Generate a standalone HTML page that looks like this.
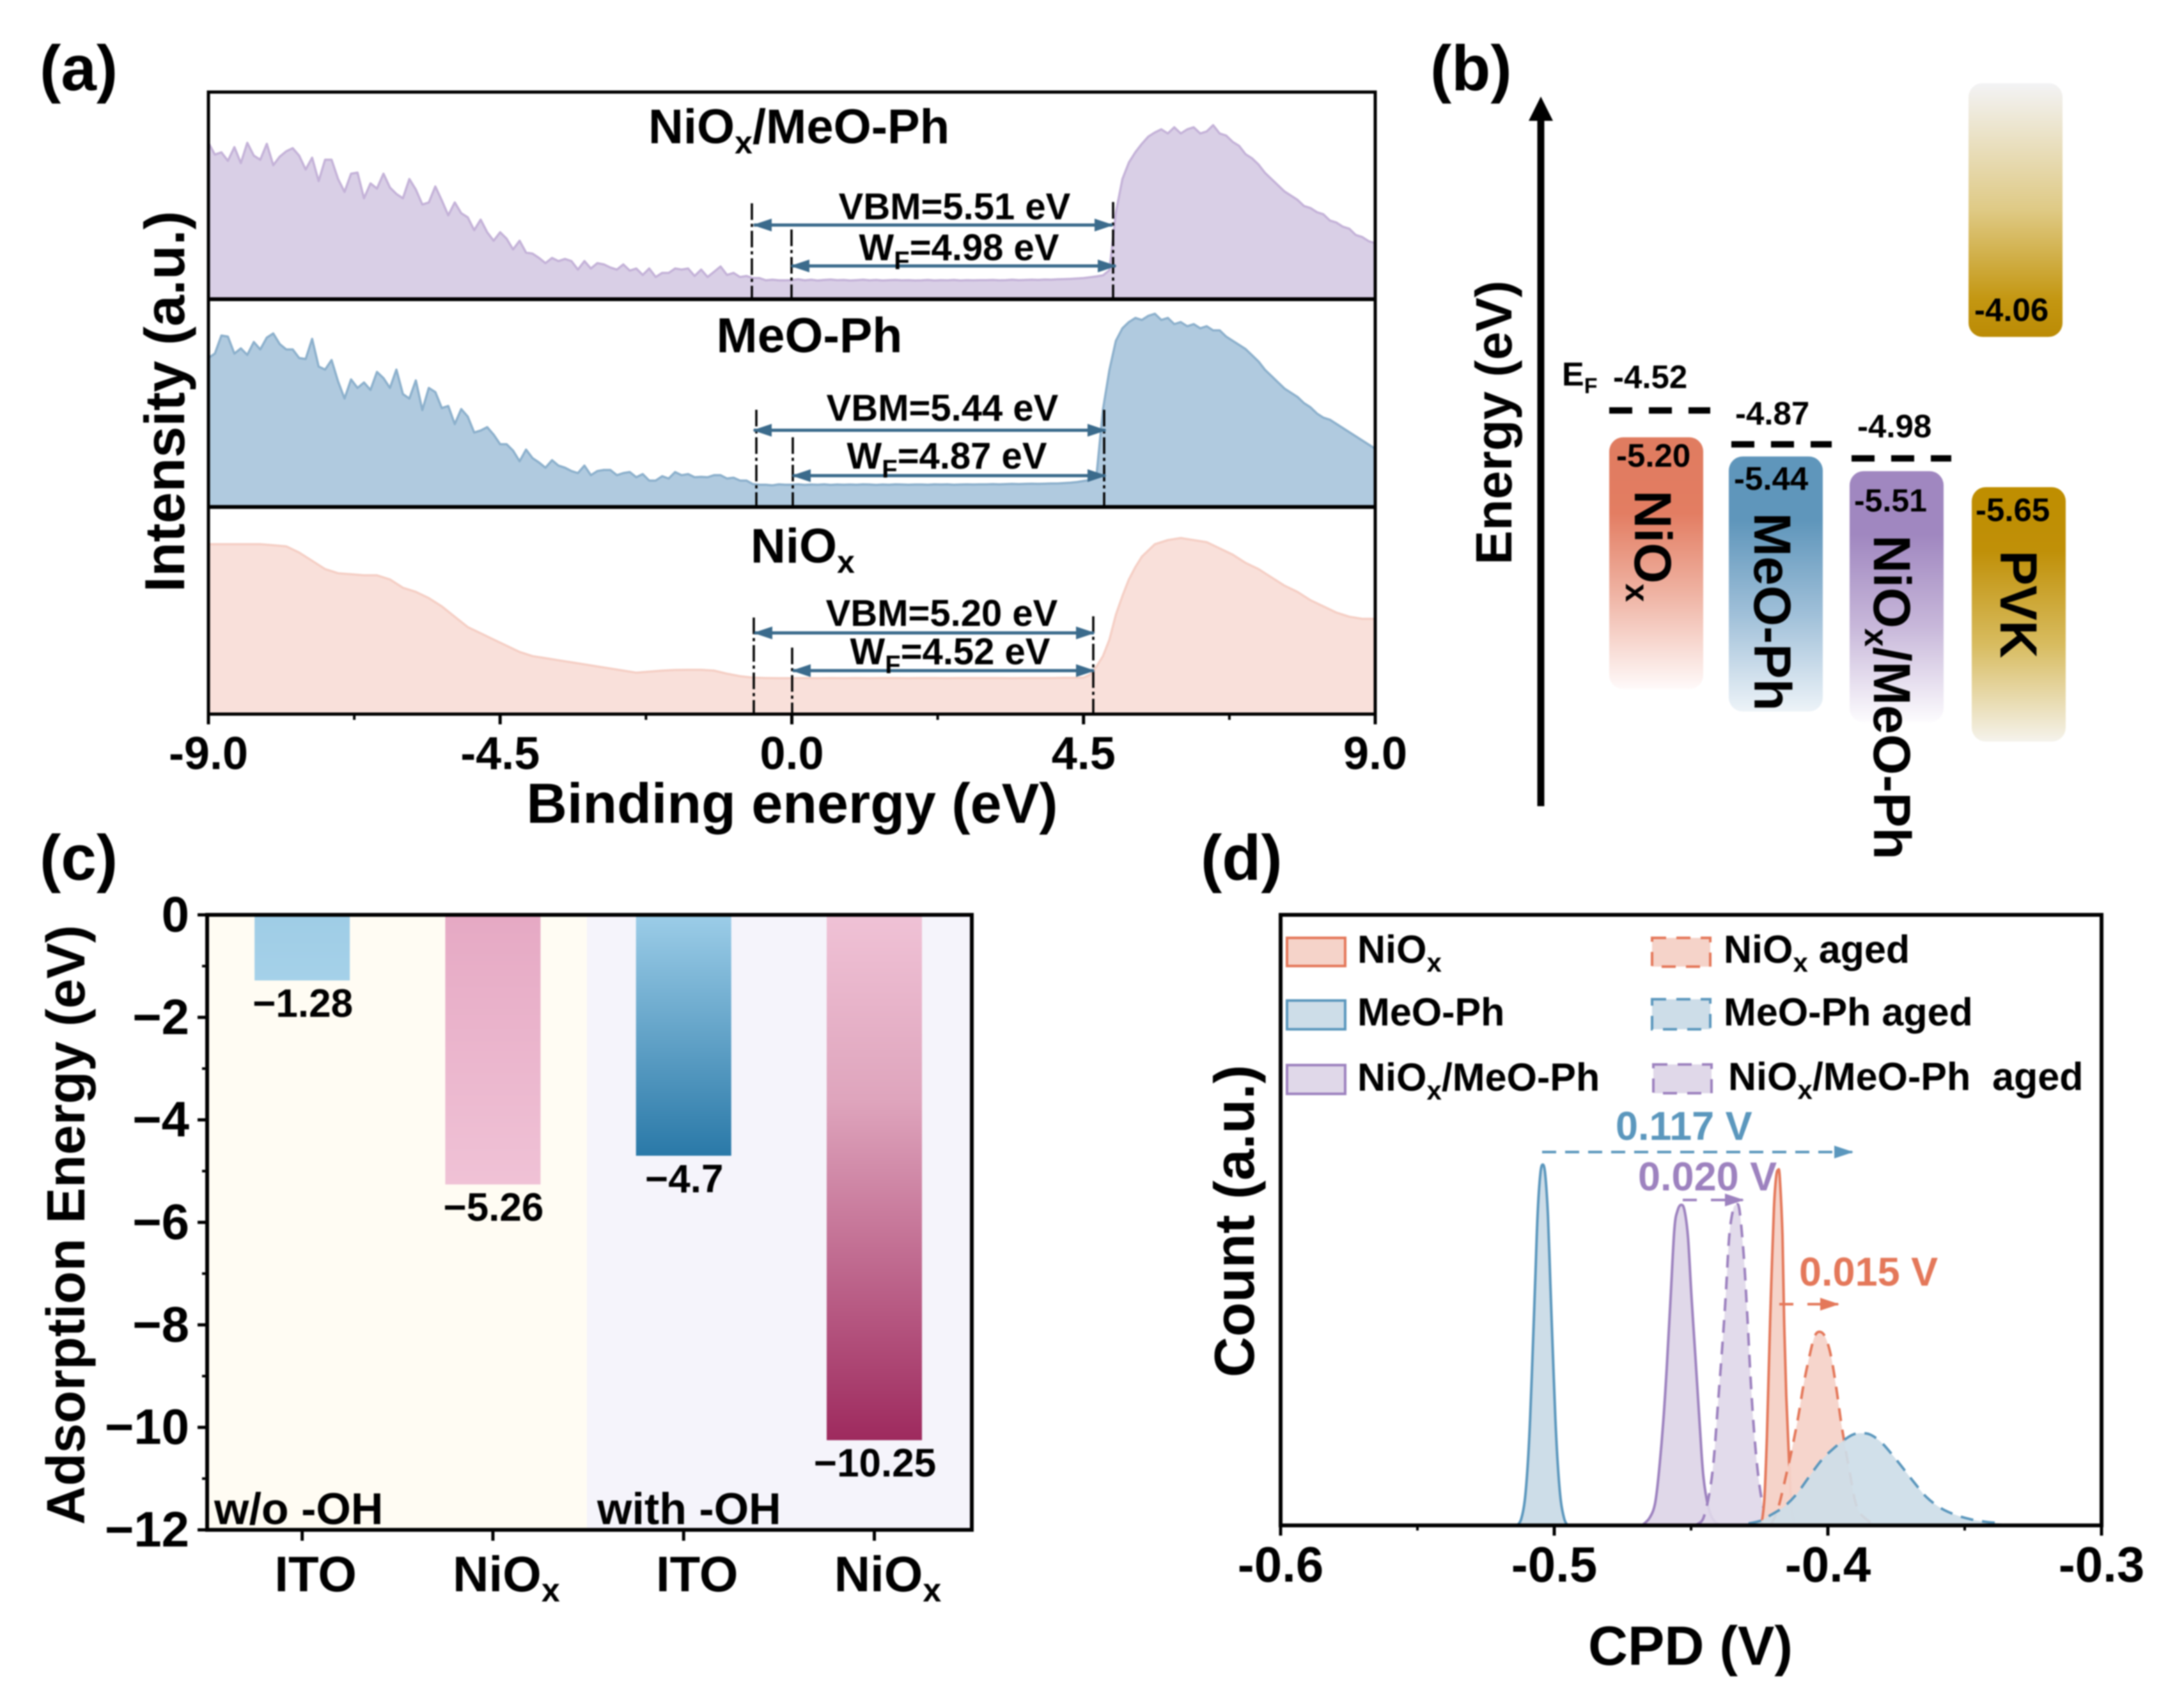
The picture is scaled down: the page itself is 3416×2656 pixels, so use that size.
<!DOCTYPE html>
<html lang="en">
<head>
<meta charset="utf-8">
<title>NiOx / MeO-Ph characterization figure</title>
<style>
html,body{margin:0;padding:0;background:#fff;width:3416px;height:2656px;overflow:hidden}
svg{display:block;filter:blur(1px)}
text{font-family:"Liberation Sans",sans-serif;font-weight:bold;fill:#000}
</style>
</head>
<body>
<svg id="fig" xmlns="http://www.w3.org/2000/svg" width="3416" height="2656" viewBox="0 0 3416 2656">
<defs>
<marker id="headBlue" viewBox="0 0 30 20" refX="28" refY="10" markerWidth="30" markerHeight="20" markerUnits="userSpaceOnUse" orient="auto-start-reverse"><path d="M0 0L30 10L0 20Z" fill="#3b6b8c"/></marker>
<marker id="headA" viewBox="0 0 30 20" refX="28" refY="10" markerWidth="30" markerHeight="20" markerUnits="userSpaceOnUse" orient="auto"><path d="M0 0L30 10L0 20Z" fill="#5b97bd"/></marker>
<marker id="headB" viewBox="0 0 30 20" refX="28" refY="10" markerWidth="30" markerHeight="20" markerUnits="userSpaceOnUse" orient="auto"><path d="M0 0L30 10L0 20Z" fill="#9d82bf"/></marker>
<marker id="headC" viewBox="0 0 30 20" refX="28" refY="10" markerWidth="30" markerHeight="20" markerUnits="userSpaceOnUse" orient="auto"><path d="M0 0L30 10L0 20Z" fill="#e4785a"/></marker>
<linearGradient id="gNi" x1="0" y1="0" x2="0" y2="1"><stop offset="0" stop-color="#e07c60"/><stop offset=".3" stop-color="#e37d62"/><stop offset=".62" stop-color="#efb3a3"/><stop offset="1" stop-color="#fffafa"/></linearGradient>
<linearGradient id="gMe" x1="0" y1="0" x2="0" y2="1"><stop offset="0" stop-color="#5f96bb"/><stop offset=".25" stop-color="#5f96bb"/><stop offset=".62" stop-color="#a0c0d9"/><stop offset="1" stop-color="#edf3f8"/></linearGradient>
<linearGradient id="gPu" x1="0" y1="0" x2="0" y2="1"><stop offset="0" stop-color="#a087c0"/><stop offset=".25" stop-color="#a087c0"/><stop offset=".62" stop-color="#c8b8da"/><stop offset="1" stop-color="#fdfcfe"/></linearGradient>
<linearGradient id="gPv" x1="0" y1="0" x2="0" y2="1"><stop offset="0" stop-color="#bf8e00"/><stop offset=".25" stop-color="#c09008"/><stop offset=".62" stop-color="#d8bc60"/><stop offset="1" stop-color="#f5f3ec"/></linearGradient>
<linearGradient id="gPvUp" x1="0" y1="0" x2="0" y2="1"><stop offset="0" stop-color="#f3f3f5"/><stop offset=".5" stop-color="#dfca85"/><stop offset=".85" stop-color="#c49712"/><stop offset="1" stop-color="#bb8b05"/></linearGradient>
<linearGradient id="gBar0" x1="0" y1="0" x2="0" y2="1"><stop offset="0" stop-color="#9fcde6"/><stop offset="1" stop-color="#a5d1e9"/></linearGradient>
<linearGradient id="gBar1" x1="0" y1="0" x2="0" y2="1"><stop offset="0" stop-color="#e6a9c4"/><stop offset="1" stop-color="#f0c2d6"/></linearGradient>
<linearGradient id="gBar2" x1="0" y1="0" x2="0" y2="1"><stop offset="0" stop-color="#9ccde8"/><stop offset="1" stop-color="#2a79a8"/></linearGradient>
<linearGradient id="gBar3" x1="0" y1="0" x2="0" y2="1"><stop offset="0" stop-color="#f0c2d6"/><stop offset=".35" stop-color="#dfa5bd"/><stop offset="1" stop-color="#9e2a5e"/></linearGradient>
</defs>

<g id="panelA">
  <text x="62" y="141" font-size="100">(a)</text>
  <g id="spectra"></g>
  <rect x="326" y="144" width="1825" height="973" fill="none" stroke="#000" stroke-width="5"/>
  <line x1="326" y1="468" x2="2151" y2="468" stroke="#000" stroke-width="6"/>
  <line x1="326" y1="793" x2="2151" y2="793" stroke="#000" stroke-width="6"/>
  <g id="ticksA"></g>

  <text x="1014" y="224" font-size="76">NiO<tspan dy="16" font-size="50">x</tspan><tspan dy="-16">/MeO-Ph</tspan></text>
  <text x="1266" y="551" font-size="77" text-anchor="middle">MeO-Ph</text>
  <text x="1174" y="880" font-size="76">NiO<tspan dy="16" font-size="50">x</tspan></text>

  <g fill="none" stroke="#000" stroke-width="3.5" stroke-dasharray="26 6 5 6">
    <line x1="1176" y1="318" x2="1176" y2="468"/>
    <line x1="1238" y1="359" x2="1238" y2="468"/>
    <line x1="1741" y1="316" x2="1741" y2="468"/>
    <line x1="1183" y1="641" x2="1183" y2="793"/>
    <line x1="1240" y1="684" x2="1240" y2="793"/>
    <line x1="1727" y1="641" x2="1727" y2="793"/>
    <line x1="1179" y1="966" x2="1179" y2="1117"/>
    <line x1="1239" y1="1013" x2="1239" y2="1117"/>
    <line x1="1710" y1="964" x2="1710" y2="1117"/>
  </g>
  <g stroke="#3b6b8c" stroke-width="5">
    <line x1="1179" y1="352" x2="1740" y2="352" marker-start="url(#headBlue)" marker-end="url(#headBlue)"/>
    <line x1="1238" y1="416" x2="1745" y2="416" marker-start="url(#headBlue)" marker-end="url(#headBlue)"/>
    <line x1="1179" y1="673" x2="1729" y2="673" marker-start="url(#headBlue)" marker-end="url(#headBlue)"/>
    <line x1="1240" y1="744" x2="1729" y2="744" marker-start="url(#headBlue)" marker-end="url(#headBlue)"/>
    <line x1="1180" y1="990" x2="1711" y2="990" marker-start="url(#headBlue)" marker-end="url(#headBlue)"/>
    <line x1="1240" y1="1049" x2="1711" y2="1049" marker-start="url(#headBlue)" marker-end="url(#headBlue)"/>
  </g>
  <text x="1493" y="343" font-size="58" text-anchor="middle">VBM=5.51 eV</text>
  <text x="1500" y="407" font-size="58" text-anchor="middle">W<tspan dy="14" font-size="40">F</tspan><tspan dy="-14">=4.98 eV</tspan></text>
  <text x="1474" y="658" font-size="58" text-anchor="middle">VBM=5.44 eV</text>
  <text x="1481" y="733" font-size="58" text-anchor="middle">W<tspan dy="14" font-size="40">F</tspan><tspan dy="-14">=4.87 eV</tspan></text>
  <text x="1473" y="979" font-size="58" text-anchor="middle">VBM=5.20 eV</text>
  <text x="1486" y="1039" font-size="58" text-anchor="middle">W<tspan dy="14" font-size="40">F</tspan><tspan dy="-14">=4.52 eV</tspan></text>
  <text x="1239" y="1287" font-size="88" text-anchor="middle">Binding energy (eV)</text>
  <text transform="translate(288 628) rotate(-90)" font-size="88" text-anchor="middle">Intensity (a.u.)</text>
</g>

<g id="panelB">
  <text x="2237" y="141" font-size="100">(b)</text>
  <rect x="2404.5" y="185" width="11" height="1076" fill="#000"/>
  <polygon points="2410,151 2429,189 2391,189" fill="#000"/>
  <text transform="translate(2364 661) rotate(-90)" font-size="80" text-anchor="middle">Energy (eV)</text>

  <rect x="2517" y="684" width="147" height="394" rx="22" fill="url(#gNi)"/>
  <rect x="2704" y="714" width="147" height="399" rx="22" fill="url(#gMe)"/>
  <rect x="2893" y="737" width="147" height="393" rx="22" fill="url(#gPu)"/>
  <rect x="3084" y="762" width="147" height="398" rx="22" fill="url(#gPv)"/>
  <rect x="3079" y="130" width="147" height="397" rx="22" fill="url(#gPvUp)"/>

  <g stroke="#000" stroke-width="10" stroke-dasharray="36 26">
    <line x1="2517" y1="642" x2="2675" y2="642"/>
    <line x1="2708" y1="695" x2="2865" y2="695"/>
    <line x1="2896" y1="717" x2="3052" y2="717"/>
  </g>
  <text x="2443" y="603" font-size="52">E<tspan dy="12" font-size="34">F</tspan></text>
  <text x="2523" y="607" font-size="51">-4.52</text>
  <text x="2714" y="664" font-size="51">-4.87</text>
  <text x="2905" y="684" font-size="51">-4.98</text>
  <text x="2528" y="730" font-size="51">-5.20</text>
  <text x="2712" y="766" font-size="51">-5.44</text>
  <text x="2900" y="800" font-size="50">-5.51</text>
  <text x="3090" y="815" font-size="51">-5.65</text>
  <text x="3088" y="502" font-size="51">-4.06</text>

  <text transform="translate(2557 767) rotate(90)" font-size="82">NiO<tspan dy="14" font-size="52">x</tspan></text>
  <text transform="translate(2744 802) rotate(90)" font-size="82">MeO-Ph</text>
  <text transform="translate(2931 837) rotate(90)" font-size="82">NiO<tspan dy="14" font-size="52">x</tspan><tspan dy="-14">/MeO-Ph</tspan></text>
  <text transform="translate(3129 861) rotate(90)" font-size="82">PVK</text>
</g>

<g id="panelC">
  <text x="62" y="1376" font-size="100">(c)</text>
  <rect x="324" y="1431" width="594" height="962" fill="#fffcf3"/>
  <rect x="918" y="1431" width="602" height="962" fill="#f5f4fb"/>
  <g id="barsC"></g>
  <rect x="324" y="1431" width="1196" height="962" fill="none" stroke="#000" stroke-width="6"/>
  <g id="ticksC"></g>
  <text x="335" y="2384" font-size="70">w/o -OH</text>
  <text x="934" y="2384" font-size="70">with -OH</text>
  <text transform="translate(132 1916) rotate(-90)" font-size="84" text-anchor="middle">Adsorption Energy (eV)</text>
</g>

<g id="panelD">
  <text x="1878" y="1376" font-size="100">(d)</text>
  <g id="curvesD"></g>
  <rect x="2003" y="1431" width="1284" height="955" fill="none" stroke="#000" stroke-width="6"/>
  <g id="ticksD"></g>

  <rect x="2013" y="1467" width="91" height="44" fill="#f5d3c9" stroke="#e4785a" stroke-width="4"/>
  <rect x="2013" y="1565" width="91" height="45" fill="#cddde8" stroke="#5b97bd" stroke-width="4"/>
  <rect x="2013" y="1666" width="91" height="45" fill="#e0d8e9" stroke="#9d82bf" stroke-width="4"/>
  <rect x="2584" y="1467" width="91" height="45" fill="#f5d3c9" stroke="#e4785a" stroke-width="4" stroke-dasharray="22 16"/>
  <rect x="2584" y="1563" width="91" height="47" fill="#cddde8" stroke="#5b97bd" stroke-width="4" stroke-dasharray="22 16"/>
  <rect x="2586" y="1665" width="91" height="45" fill="#e0d8e9" stroke="#9d82bf" stroke-width="4" stroke-dasharray="22 16"/>
  <text x="2123" y="1506" font-size="61">NiO<tspan dy="14" font-size="42">x</tspan></text>
  <text x="2123" y="1604" font-size="61">MeO-Ph</text>
  <text x="2123" y="1706" font-size="61">NiO<tspan dy="14" font-size="42">x</tspan><tspan dy="-14">/MeO-Ph</tspan></text>
  <text x="2696" y="1506" font-size="61">NiO<tspan dy="14" font-size="42">x</tspan><tspan dy="-14"> aged</tspan></text>
  <text x="2696" y="1604" font-size="61">MeO-Ph aged</text>
  <text x="2703" y="1705" font-size="61">NiO<tspan dy="14" font-size="42">x</tspan><tspan dy="-14">/MeO-Ph&#160;&#160;aged</tspan></text>

  <text x="2527" y="1783" font-size="63" style="fill:#5b97bd">0.117 V</text>
  <line x1="2412" y1="1802" x2="2897" y2="1802" stroke="#5b97bd" stroke-width="4" stroke-dasharray="22 14" marker-end="url(#headA)"/>
  <text x="2562" y="1862" font-size="63" style="fill:#9d82bf">0.020 V</text>
  <line x1="2632" y1="1877" x2="2726" y2="1877" stroke="#9d82bf" stroke-width="4" stroke-dasharray="22 22" marker-end="url(#headB)"/>
  <text x="2814" y="2011" font-size="63" style="fill:#e4785a">0.015 V</text>
  <line x1="2783" y1="2040" x2="2875" y2="2040" stroke="#e4785a" stroke-width="4" stroke-dasharray="22 22" marker-end="url(#headC)"/>

  <text x="2644" y="2604" font-size="86" text-anchor="middle">CPD (V)</text>
  <text transform="translate(1961 1910) rotate(-90)" font-size="88" text-anchor="middle">Count (a.u.)</text>
</g>
</svg>

<script>
/* ---------- panel (a) data: binding energy (eV) and intensity (% of panel height) ---------- */
const energyFine = [
-9.0,-8.9,-8.8,-8.7,-8.6,-8.5,-8.4,-8.3,-8.2,-8.1,
-8.0,-7.9,-7.8,-7.7,-7.6,-7.5,-7.4,-7.3,-7.2,-7.1,
-7.0,-6.9,-6.8,-6.7,-6.6,-6.5,-6.4,-6.3,-6.2,-6.1,
-6.0,-5.9,-5.8,-5.7,-5.6,-5.5,-5.4,-5.3,-5.2,-5.1,
-5.0,-4.9,-4.8,-4.7,-4.6,-4.5,-4.4,-4.3,-4.2,-4.1,
-4.0,-3.9,-3.8,-3.7,-3.6,-3.5,-3.4,-3.3,-3.2,-3.1,
-3.0,-2.9,-2.8,-2.7,-2.6,-2.5,-2.4,-2.3,-2.2,-2.1,
-2.0,-1.9,-1.8,-1.7,-1.6,-1.5,-1.4,-1.3,-1.2,-1.1,
-1.0,-0.9,-0.8,-0.7,-0.6,-0.5,-0.4,-0.3,-0.2,-0.1,
0.0,0.1,0.2,0.3,0.4,0.5,0.6,0.7,0.8,0.9,
1.0,1.1,1.2,1.3,1.4,1.5,1.6,1.7,1.8,1.9,
2.0,2.1,2.2,2.3,2.4,2.5,2.6,2.7,2.8,2.9,
3.0,3.1,3.2,3.3,3.4,3.5,3.6,3.7,3.8,3.9,
4.0,4.1,4.2,4.3,4.4,4.5,4.6,4.7,4.8,4.9,
5.0,5.1,5.2,5.3,5.4,5.5,5.6,5.7,5.8,5.9,
6.0,6.1,6.2,6.3,6.4,6.5,6.6,6.7,6.8,6.9,
7.0,7.1,7.2,7.3,7.4,7.5,7.6,7.7,7.8,7.9,
8.0,8.1,8.2,8.3,8.4,8.5,8.6,8.7,8.8,8.9,
9.0];
const intensityNioMeo = [
75.5,69.8,70.9,66.8,73.4,65.7,75.5,69.3,67.3,75,
64.7,68.8,71.4,72.9,69.3,62.6,68.3,57,67.3,67.3,
58,51.8,60.6,61.1,48.7,55.9,53.4,60.6,53.9,50.8,
48.7,58,52.9,45.7,46.7,54.4,47.7,40.5,46.7,41.5,
39.5,33.3,38.4,32.3,28.2,32.3,29.2,24,28.2,22.5,
22,19.9,17.4,19.9,18.4,19.4,18.4,14.3,18.4,14.8,
17.4,16.8,15.3,14.3,16.8,13.8,14.8,11.7,14.8,10.7,
12.7,12.7,14.8,14.3,14.8,11.2,14.3,10.7,13.2,15.8,
11.7,12.7,10.7,11.2,10.2,10.2,9.1,9.4,9.1,9.1,
9.2,9.6,9.1,9.4,9.0,9.3,9.5,9.2,9.3,9.0,
9.2,9.4,9.1,9.3,9.0,9.2,9.3,9.1,9.2,9.0,
9.1,9.3,9.0,9.2,9.1,9.3,9.0,9.2,9.1,9.2,
9.2,9.3,9.1,9.2,9.4,9.2,9.3,9.4,9.3,9.5,
9.4,9.6,9.7,9.8,10,10.2,10.6,11,11.5,14,
42,58,66,71,75,78.5,80.5,82,80,83,
80,82,83,80,81,84,80,79,76,74,
70,68,65,61,58,55,52,50,48,45,
44,42,41,38,37,35,34,31,30,28,
27];
const intensityMeo = [
71.7,73.8,82.5,82,73.8,76.3,73.2,79.4,75.8,81.5,
83.5,78.4,75.8,75.8,71.7,71.2,80.9,67.6,66.1,70.7,
60.4,52.2,61.4,57.3,59.9,56.3,65,62,57.3,66.1,
54.3,52.2,60.9,46.6,57.3,55.3,47.6,48.6,39.9,47.1,
43.5,35.8,36.8,38.4,34.8,30.2,30.2,27.1,22,27.6,
23.5,21.4,18.9,22.5,19.9,18.9,17.3,16.3,19.9,15.3,
17.3,17.8,17.8,15.3,16.3,16.8,14.3,15.8,12.7,12.7,
14.8,13.7,16.8,15.3,15.8,14.3,14.5,14.3,15.3,15.3,
13.7,14.1,12.7,12.7,11,10.7,10.7,10.4,10.9,10.7,
10.7,10.9,10.6,10.8,10.7,10.9,10.6,10.8,10.7,10.8,
10.7,10.9,10.8,10.6,10.8,10.7,10.9,10.8,10.7,10.8,
10.8,10.7,10.9,10.8,10.9,10.7,10.8,10.9,10.8,10.9,
10.9,11,10.9,11,11.1,11,11.1,11.2,11.1,11.2,
11.3,11.3,11.5,11.7,12,12.5,13,15,47,66,
80,86,89,91,90,92,93,90,91,88,
89,87,88,86,87,85,85,82,80,78,
76,73,70,66,63,60,57,55,53,50,
48,45,43,42,40,38,36,34,32,30,
28];
const energyCoarse = [
-9.0,-8.8,-8.6,-8.4,-8.2,-8.0,-7.8,-7.6,-7.4,-7.2,
-7.0,-6.8,-6.6,-6.4,-6.2,-6.0,-5.8,-5.6,-5.4,-5.2,
-5.0,-4.8,-4.6,-4.4,-4.2,-4.0,-3.8,-3.6,-3.4,-3.2,
-3.0,-2.8,-2.6,-2.4,-2.2,-2.0,-1.8,-1.6,-1.4,-1.2,
-1.0,-0.8,-0.6,-0.4,-0.2,0.0,0.2,0.4,0.6,0.8,
1.0,1.2,1.4,1.6,1.8,2.0,2.2,2.4,2.6,2.8,
3.0,3.2,3.4,3.6,3.8,4.0,4.2,4.4,4.5,4.6,
4.7,4.8,4.9,5.0,5.1,5.2,5.3,5.4,5.6,5.8,
6.0,6.2,6.4,6.6,6.8,7.0,7.2,7.4,7.6,7.8,
8.0,8.2,8.4,8.6,8.8,9.0];
const intensityNio = [
82,82,82,82,82,81.5,81,78,74,70,
68,67.5,67,67,65,61,59,56,52,47,
42,39,36,33,30,28,27,26,25,24,
23,22,21,20,20.5,21,21.3,21.4,21.4,21,
19.5,18.3,17.6,17.4,17.3,17.3,17.4,17.3,17.4,17.3,
17.4,17.3,17.4,17.4,17.3,17.4,17.4,17.3,17.4,17.4,
17.4,17.4,17.3,17.4,17.4,17.4,17.5,17.5,17.6,19,
23,28,36,48,57,65,71,76,82,84,
85,84,83,80,77,73,70,66,62,59,
55,52,49,47,46,46];
const energyTicks = [-9, -4.5, 0, 4.5, 9];
const energyTickLabels = ["-9.0", "-4.5", "0.0", "4.5", "9.0"];
const energyMinorTicks = [-6.75, -2.25, 2.25, 6.75];

/* ---------- panel (c) data ---------- */
const adsorptionCategories = ["ITO", "NiO", "ITO", "NiO"];
const adsorptionValues = [-1.28, -5.26, -4.7, -10.25];
const adsorptionLabels = ["\u22121.28", "\u22125.26", "\u22124.7", "\u221210.25"];
const adsorptionTicks = [0, -2, -4, -6, -8, -10, -12];
const adsorptionTickLabels = ["0", "\u22122", "\u22124", "\u22126", "\u22128", "\u221210", "\u221212"];
const adsorptionMinorTicks = [-1, -3, -5, -7, -9, -11];

/* ---------- panel (d) data: CPD (V) and count (% of axis height) ---------- */
const cpdMeo = [-.5135,-.5121,-.5108,-.5097,-.5088,-.5078,-.5070,-.5061,-.5051,-.5042,-.5033,-.5023,-.5014,-.5006,-.4996,-.4987,-.4976,-.4963,-.4951];
const countMeo = [0,1,4,9.9,17.6,29.4,39.4,50.7,57.5,59.1,57.5,50.7,39.4,29.4,17.6,9.9,4,1,0];
const cpdNioMeo = [-.4679,-.4652,-.4632,-.4618,-.4602,-.4589,-.4575,-.4561,-.4549,-.4536,-.4524,-.4511,-.4498,-.4484,-.4468,-.4455,-.4437,-.4417,-.4390];
const countNioMeo = [0,1.2,3.5,8.5,16.7,25.7,37.1,48.5,51.6,52.5,51.6,47.1,37.1,27.6,16.2,8,3,.8,0];
const cpdNioMeoAged = [-.4477,-.4455,-.4433,-.4417,-.4401,-.4388,-.4374,-.4361,-.4347,-.4335,-.4323,-.4307,-.4294,-.4280,-.4267,-.4253,-.4236,-.4216,-.4196];
const countNioMeoAged = [.2,1.2,5.3,10.8,20.3,28,37.1,47.1,51.6,52.5,51.6,43.9,33.9,22.1,13.9,7.6,3,1,0];
const cpdNio = [-.4243,-.4232,-.4223,-.4216,-.4207,-.4197,-.4189,-.4182,-.4176,-.4166,-.4160,-.4152,-.4142,-.4133,-.4122];
const countNio = [0,4.4,14.4,25.7,39.4,52.1,57.1,58.2,57.1,47.5,33.9,21.2,10.8,3,0];
const cpdNioAged = [-.4209,-.4182,-.4149,-.4129,-.4109,-.4089,-.4068,-.4048,-.4028,-.4008,-.3988,-.3968,-.3954,-.3941,-.3921,-.3894,-.3854,-.3820];
const countNioAged = [0,2.8,8.9,13,17.6,23,27.6,31,31.7,30.7,27.6,22.1,17.6,13.9,8.9,3,.8,0];
const cpdMeoAged = [-.4290,-.4243,-.4209,-.4162,-.4115,-.4068,-.4021,-.3974,-.3934,-.3907,-.3881,-.3847,-.3807,-.3767,-.3726,-.3686,-.3639,-.3586,-.3532,-.3478,-.3425,-.3358];
const countMeoAged = [.3,.8,1.7,3,5.1,8,10.8,12.8,14.2,14.9,15.1,14.9,13.7,11.7,9.4,7.1,4.6,2.8,1.7,1,.6,.3];
const cpdTicks = [-.6, -.5, -.4, -.3];
const cpdTickLabels = ["-0.6", "-0.5", "-0.4", "-0.3"];
const cpdMinorTicks = [-.55, -.45, -.35];

/* ---------- helpers ---------- */
const NS = 'http://www.w3.org/2000/svg';
function mk(tag, parent) {
  const el = document.createElementNS(NS, tag);
  parent.appendChild(el);
  return el;
}
function setAll(el, props) {
  for (const k in props) el.setAttribute(k, props[k]);
}

/* ---------- axis functions ---------- */
const xEnergy = e => 326 + (e + 9) / 18 * 1825;
const yPanel = (v, bottom, height) => bottom - v / 100 * height;
const xBand = i => 323.5 + 298.3 * (i + 0.5);
const yAdsorption = v => 1431 + (-v) / 12 * 962;
const xCpd = v => 2003 + (v + 0.6) / 0.3 * 1284;
const yCount = c => 2386 - c / 100 * 955;

/* ---------- panel (a) ---------- */
const spectra = document.getElementById('spectra');
function drawSpectrum(grid, values, bottom, height, fill, line, name) {
  const pts = values.map((v, i) => xEnergy(grid[i]).toFixed(1) + ',' + yPanel(v, bottom, height).toFixed(1));
  const area = mk('polygon', spectra);
  setAll(area, {points: xEnergy(grid[0]) + ',' + bottom + ' ' + pts.join(' ') + ' ' + xEnergy(grid[grid.length - 1]) + ',' + bottom, fill: fill});
  
  
  const stroke = mk('polyline', spectra);
  setAll(stroke, {points: pts.join(' '), fill: 'none', stroke: line, 'stroke-width': 3.5, 'stroke-linejoin': 'round'});
  
  
}
drawSpectrum(energyFine, intensityNioMeo, 468, 324, '#d9cfe6', '#c4b2d8', 'spectrum-nio-meo');
drawSpectrum(energyFine, intensityMeo, 793, 325, '#b0cadf', '#8cb0cc', 'spectrum-meo');
drawSpectrum(energyCoarse, intensityNio, 1117, 324, '#f9e0da', '#f5cfc5', 'spectrum-nio');

const ticksA = document.getElementById('ticksA');
energyTicks.forEach((e, i) => {
  const t = mk('line', ticksA);
  setAll(t, {x1: xEnergy(e), x2: xEnergy(e), y1: 1117, y2: 1133, stroke: '#000', 'stroke-width': 5});
  
  
  const l = mk('text', ticksA);
  setAll(l, {x: xEnergy(e), y: 1203, 'font-size': 72, 'text-anchor': 'middle'});
  l.textContent = energyTickLabels[i];
  
  
});
energyMinorTicks.forEach(e => {
  const t = mk('line', ticksA);
  setAll(t, {x1: xEnergy(e), x2: xEnergy(e), y1: 1117, y2: 1126, stroke: '#000', 'stroke-width': 4});
  
  
});

/* ---------- panel (c) ---------- */
const barsC = document.getElementById('barsC');
const ticksC = document.getElementById('ticksC');
adsorptionValues.forEach((v, i) => {
  const b = mk('rect', barsC);
  setAll(b, {x: xBand(i) - 74.5, y: yAdsorption(0), width: 149, height: yAdsorption(v) - yAdsorption(0), fill: 'url(#gBar' + i + ')'});
  
  
  const l = mk('text', barsC);
  setAll(l, {x: xBand(i) + 1, y: yAdsorption(v) + 57, 'font-size': 62, 'text-anchor': 'middle'});
  l.textContent = adsorptionLabels[i];
  
  
  const t = mk('line', ticksC);
  setAll(t, {x1: xBand(i), x2: xBand(i), y1: 2393, y2: 2410, stroke: '#000', 'stroke-width': 5});
  
  
  const c = mk('text', ticksC);
  setAll(c, {x: xBand(i) + 21, y: 2489, 'font-size': 78, 'text-anchor': 'middle'});
  c.textContent = adsorptionCategories[i];
  if (adsorptionCategories[i] === 'NiO') {
    const s = mk('tspan', c);
    setAll(s, {dy: 16, 'font-size': 52});
    s.textContent = 'x';
  }
  
  
});
adsorptionTicks.forEach((v, i) => {
  const t = mk('line', ticksC);
  setAll(t, {x1: 309, x2: 324, y1: yAdsorption(v), y2: yAdsorption(v), stroke: '#000', 'stroke-width': 5});
  
  
  const l = mk('text', ticksC);
  setAll(l, {x: 296, y: yAdsorption(v) + 26, 'font-size': 78, 'text-anchor': 'end'});
  l.textContent = adsorptionTickLabels[i];
  
  
});
adsorptionMinorTicks.forEach(v => {
  const t = mk('line', ticksC);
  setAll(t, {x1: 316, x2: 324, y1: yAdsorption(v), y2: yAdsorption(v), stroke: '#000', 'stroke-width': 4});
  
  
});

/* ---------- panel (d) ---------- */
const curvesD = document.getElementById('curvesD');
function smoothPath(xs, ys) {
  const P = xs.map((x, i) => [xCpd(x), yCount(ys[i])]);
  let d = 'M' + P[0][0].toFixed(1) + ' ' + P[0][1].toFixed(1);
  for (let i = 0; i < P.length - 1; i++) {
    const p0 = P[Math.max(0, i - 1)], p1 = P[i], p2 = P[i + 1], p3 = P[Math.min(P.length - 1, i + 2)];
    const c1 = [p1[0] + (p2[0] - p0[0]) / 6, p1[1] + (p2[1] - p0[1]) / 6];
    const c2 = [p2[0] - (p3[0] - p1[0]) / 6, p2[1] - (p3[1] - p1[1]) / 6];
    d += 'C' + c1[0].toFixed(1) + ' ' + c1[1].toFixed(1) + ' ' + c2[0].toFixed(1) + ' ' + c2[1].toFixed(1) + ' ' + p2[0].toFixed(1) + ' ' + p2[1].toFixed(1);
  }
  return d;
}
function drawCurve(xs, ys, fill, opacity, line, dashed, name) {
  const path = smoothPath(xs, ys);
  const area = mk('path', curvesD);
  setAll(area, {d: path + 'L' + xCpd(xs[xs.length - 1]).toFixed(1) + ' ' + yCount(0) + 'L' + xCpd(xs[0]).toFixed(1) + ' ' + yCount(0) + 'Z', fill: fill, 'fill-opacity': opacity});
  
  
  const stroke = mk('path', curvesD);
  setAll(stroke, {d: path, fill: 'none', stroke: line, 'stroke-width': 4});
  if (dashed) stroke.setAttribute('stroke-dasharray', '20 14');
  
  
}
drawCurve(cpdMeo, countMeo, '#cddde8', 1, '#5b97bd', false, 'curve-meo');
drawCurve(cpdNioMeo, countNioMeo, '#e0d8e9', 1, '#9d82bf', false, 'curve-nio-meo');
drawCurve(cpdNioMeoAged, countNioMeoAged, '#e0d8e9', .92, '#9d82bf', true, 'curve-nio-meo-aged');
drawCurve(cpdNio, countNio, '#f5d3c9', 1, '#e4785a', false, 'curve-nio');
drawCurve(cpdNioAged, countNioAged, '#f5d3c9', .95, '#e4785a', true, 'curve-nio-aged');
drawCurve(cpdMeoAged, countMeoAged, '#cddde8', .92, '#5b97bd', true, 'curve-meo-aged');

const ticksD = document.getElementById('ticksD');
cpdTicks.forEach((v, i) => {
  const t = mk('line', ticksD);
  setAll(t, {x1: xCpd(v), x2: xCpd(v), y1: 2386, y2: 2402, stroke: '#000', 'stroke-width': 5});
  
  
  const l = mk('text', ticksD);
  setAll(l, {x: xCpd(v), y: 2474, 'font-size': 78, 'text-anchor': 'middle'});
  l.textContent = cpdTickLabels[i];
  
  
});
cpdMinorTicks.forEach(v => {
  const t = mk('line', ticksD);
  setAll(t, {x1: xCpd(v), x2: xCpd(v), y1: 2386, y2: 2394, stroke: '#000', 'stroke-width': 4});
  
  
});
</script>
</body>
</html>
